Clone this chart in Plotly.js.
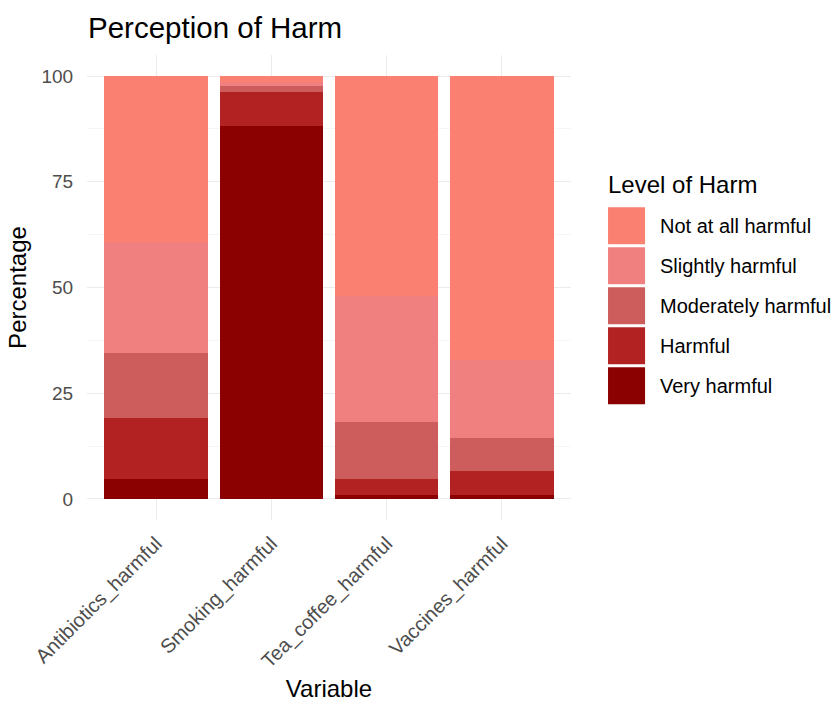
<!DOCTYPE html>
<html>
<head>
<meta charset="utf-8">
<script src="https://cdn.plot.ly/plotly-3.0.1.min.js"></script>
<style>html,body{margin:0;padding:0;background:#fff;}#chart{width:839px;height:704px;}</style>
</head>
<body>
<div id="chart"></div>
<script>
// ---- data ----
var categories = ["Antibiotics_harmful", "Smoking_harmful", "Tea_coffee_harmful", "Vaccines_harmful"];
var levels = ["Very harmful", "Harmful", "Moderately harmful", "Slightly harmful", "Not at all harmful"];
var veryHarmful      = [4.7, 88.2, 1.0, 1.0];
var harmful          = [14.4, 8.1, 3.7, 5.5];
var moderatelyHarmful= [15.5, 1.4, 13.4, 7.9];
var slightlyHarmful  = [26.2, 0.8, 29.9, 18.4];
var notAtAllHarmful  = [39.2, 1.5, 52.0, 67.2];
var yTicks = [0, 25, 50, 75, 100];
var colors = ["#8B0000", "#B22222", "#CD5C5C", "#F08080", "#FA8072"];
var seriesValues = [veryHarmful, harmful, moderatelyHarmful, slightlyHarmful, notAtAllHarmful];

var FONT = "Liberation Sans, Arial, sans-serif";

var traces = levels.map(function(name, i){
  return {
    type: "bar", name: name, x: categories, y: seriesValues[i],
    marker: {color: colors[i], line: {width: 0}},
    showlegend: false, hoverinfo: "x+y+name"
  };
});

// plot area in pixels
var PL = 87.4, PR = 571, PT = 54.5, PB = 519.9;
function px(x){ return (x - PL) / (PR - PL); }
function py(y){ return (PB - y) / (PB - PT); }

var shapes = [], annotations = [];
// custom legend (top to bottom: Not at all ... Very)
annotations.push({xref:"paper", yref:"paper", x: px(606), y: py(184), xanchor:"left", yanchor:"middle",
  text:"Level of Harm", showarrow:false, font:{family:FONT, size:24, color:"#000"}});
for (var k = 0; k < levels.length; k++){
  var idx = levels.length - 1 - k;
  var keyTop = 207 + k*40;
  shapes.push({type:"rect", xref:"paper", yref:"paper", x0:px(608), x1:px(645), y0:py(keyTop+37), y1:py(keyTop),
    fillcolor: colors[idx], line:{width:0}});
  annotations.push({xref:"paper", yref:"paper", x: px(658), y: py(keyTop+18.5), xanchor:"left", yanchor:"middle",
    text: levels[idx], showarrow:false, font:{family:FONT, size:20, color:"#000"}});
}

var layout = {
  width: 839, height: 704,
  paper_bgcolor: "#fff", plot_bgcolor: "#fff",
  margin: {l: PL, r: 839 - PR, t: PT, b: 704 - PB},
  barmode: "stack", bargap: 0.1,
  font: {family: FONT},
  title: {text: "Perception of Harm", x: 88/839, xanchor: "left", xref: "container",
          y: 1 - 28/704, yanchor: "middle", yref: "container",
          font: {family: FONT, size: 29.5, color: "#000"}},
  xaxis: {
    range: [-0.6, 3.6], tickangle: -45, showgrid: true, gridcolor: "#EBEBEB", gridwidth: 1.2,
    zeroline: false, showline: false, ticks: "outside", ticklen: 3, tickcolor: "rgba(0,0,0,0)",
    tickfont: {family: FONT, size: 20, color: "#4D4D4D"},
    title: {text: "Variable", font: {family: FONT, size: 24, color: "#000"}, standoff: 8}
  },
  yaxis: {
    range: [-5, 105], tickvals: yTicks, ticktext: yTicks.map(String),
    showgrid: true, gridcolor: "#EBEBEB", gridwidth: 1.2, zeroline: false, showline: false,
    minor: {tickvals: [12.5, 37.5, 62.5, 87.5], showgrid: true, gridcolor: "#F2F2F2", gridwidth: 0.8, ticks: ""},
    ticks: "outside", ticklen: 9, tickcolor: "rgba(0,0,0,0)",
    tickfont: {family: FONT, size: 19, color: "#4D4D4D"},
    title: {text: "Percentage", font: {family: FONT, size: 24, color: "#000"}, standoff: 8}
  },
  shapes: shapes, annotations: annotations
};

Plotly.newPlot("chart", traces, layout, {displayModeBar: false, staticPlot: true});
</script>
</body>
</html>
